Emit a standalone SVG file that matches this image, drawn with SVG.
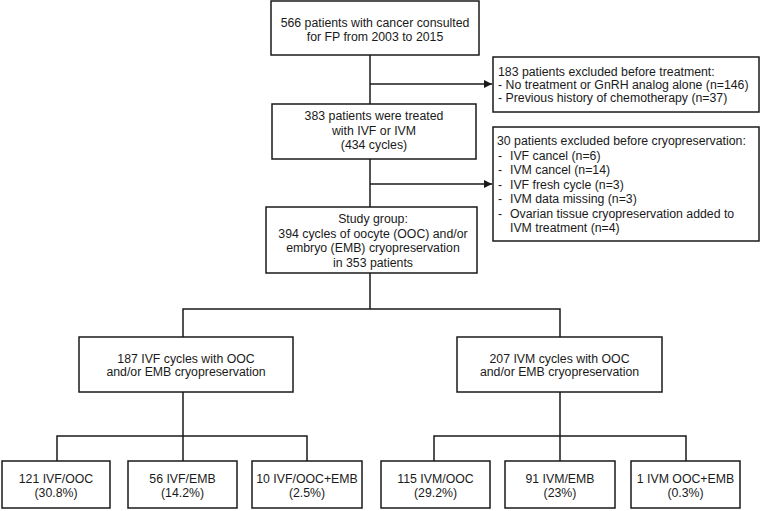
<svg xmlns="http://www.w3.org/2000/svg" width="761" height="511" viewBox="0 0 761 511">
<style>
rect{fill:#fff;stroke:#1a1a1a;stroke-width:1.5}
.c{fill:none;stroke:#1a1a1a;stroke-width:1.5}
text{font-family:"Liberation Sans",Arial,sans-serif;font-size:12.3px;fill:#1a1a1a}
.m{text-anchor:middle}
</style>
<defs>
<marker id="ah" viewBox="0 0 10 10" refX="10" refY="5" markerWidth="8" markerHeight="8" markerUnits="userSpaceOnUse" orient="auto">
<path d="M0,0 L10,5 L0,10 z" fill="#1a1a1a"/>
</marker>
</defs>
<g id="connectors">
<path class="c" d="M370,55 V104"/>
<path class="c" d="M370,84 H492" marker-end="url(#ah)"/>
<path class="c" d="M370,159 V207"/>
<path class="c" d="M370,184 H492" marker-end="url(#ah)"/>
<path class="c" d="M370,273 V309 M183,337 V309 H560 V337"/>
<path class="c" d="M183,392 V436 M57,461 V436 H307 V461 M183,436 V461"/>
<path class="c" d="M560,392 V436 M434,461 V436 H686 V461 M560,436 V461"/>
</g>
<g id="n1">
<rect x="271" y="1" width="208" height="54"/>
<text class="m" x="375" y="27">566 patients with cancer consulted</text>
<text class="m" x="375" y="41">for FP from 2003 to 2015</text>
</g>
<g id="ex1">
<rect x="493" y="57" width="266" height="55"/>
<text x="498" y="75.5">183 patients excluded before treatment:</text>
<text x="498" y="88.5">- No treatment or GnRH analog alone (n=146)</text>
<text x="498" y="101.5">- Previous history of chemotherapy (n=37)</text>
</g>
<g id="n2">
<rect x="272" y="104" width="204" height="55"/>
<text class="m" x="374" y="120">383 patients were treated</text>
<text class="m" x="374" y="134.5">with IVF or IVM</text>
<text class="m" x="374" y="149">(434 cycles)</text>
</g>
<g id="ex2">
<rect x="493" y="127" width="266" height="114"/>
<text x="497" y="145">30 patients excluded before cryopreservation:</text>
<text x="498" y="159.5">-</text><text x="510" y="159.5">IVF cancel (n=6)</text>
<text x="498" y="174">-</text><text x="510" y="174">IVM cancel (n=14)</text>
<text x="498" y="188.5">-</text><text x="510" y="188.5">IVF fresh cycle (n=3)</text>
<text x="498" y="203">-</text><text x="510" y="203">IVM data missing (n=3)</text>
<text x="498" y="217.5">-</text><text x="510" y="217.5">Ovarian tissue cryopreservation added to</text>
<text x="510" y="232">IVM treatment (n=4)</text>
</g>
<g id="n3">
<rect x="266" y="207" width="211" height="66"/>
<text class="m" x="373" y="223">Study group:</text>
<text class="m" x="373" y="237.5">394 cycles of oocyte (OOC) and/or</text>
<text class="m" x="373" y="252">embryo (EMB) cryopreservation</text>
<text class="m" x="373" y="266.5">in 353 patients</text>
</g>
<g id="ivf">
<rect x="79" y="337" width="214" height="55"/>
<text class="m" x="186" y="363">187 IVF cycles with OOC</text>
<text class="m" x="186" y="376">and/or EMB cryopreservation</text>
</g>
<g id="ivm">
<rect x="457" y="337" width="205" height="55"/>
<text class="m" x="559.5" y="363">207 IVM cycles with OOC</text>
<text class="m" x="559.5" y="376">and/or EMB cryopreservation</text>
</g>
<g id="b1">
<rect x="2" y="461" width="108" height="47"/>
<text class="m" x="56" y="483">121 IVF/OOC</text>
<text class="m" x="56" y="497">(30.8%)</text>
</g>
<g id="b2">
<rect x="128" y="461" width="109" height="47"/>
<text class="m" x="182.5" y="483">56 IVF/EMB</text>
<text class="m" x="182.5" y="497">(14.2%)</text>
</g>
<g id="b3">
<rect x="252" y="461" width="110" height="47"/>
<text class="m" x="307" y="483">10 IVF/OOC+EMB</text>
<text class="m" x="307" y="497">(2.5%)</text>
</g>
<g id="b4">
<rect x="381" y="461" width="109" height="47"/>
<text class="m" x="435.5" y="483">115 IVM/OOC</text>
<text class="m" x="435.5" y="497">(29.2%)</text>
</g>
<g id="b5">
<rect x="505" y="461" width="110" height="47"/>
<text class="m" x="560" y="483">91 IVM/EMB</text>
<text class="m" x="560" y="497">(23%)</text>
</g>
<g id="b6">
<rect x="631" y="461" width="109" height="47"/>
<text class="m" x="685.5" y="483">1 IVM OOC+EMB</text>
<text class="m" x="685.5" y="497">(0.3%)</text>
</g>
</svg>
